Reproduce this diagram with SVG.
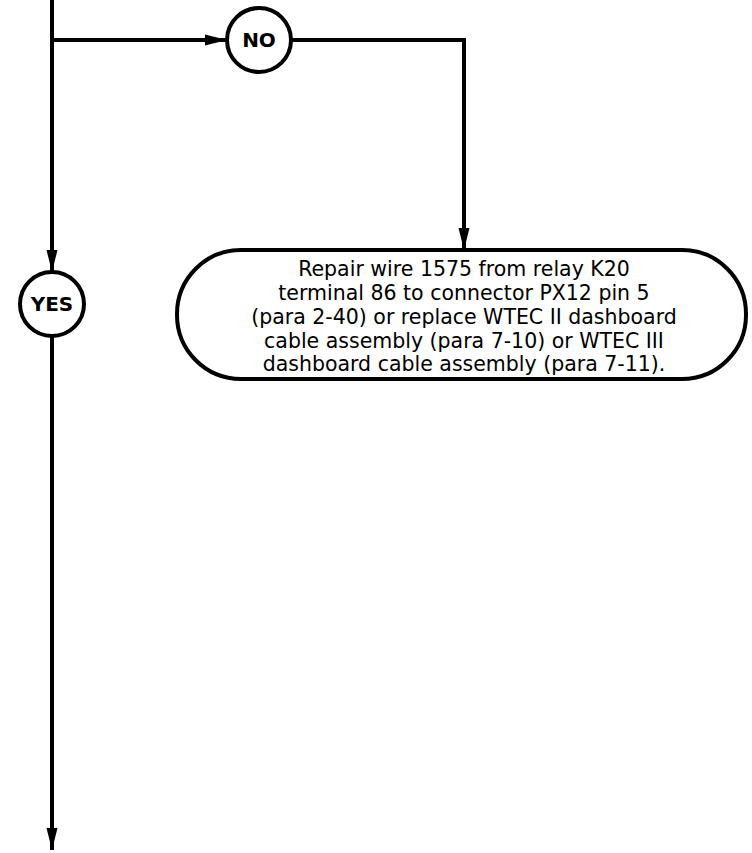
<svg xmlns="http://www.w3.org/2000/svg" width="752" height="853" viewBox="0 0 752 853">
<style>
.ln{fill:none;stroke:#000;stroke-width:4}
.nd{fill:#fff;stroke:#000;stroke-width:4}
.lbl{font-family:"DejaVu Sans",sans-serif;font-weight:bold;font-size:20px;text-anchor:middle;fill:#000}
.txt{font-family:"DejaVu Sans",sans-serif;font-size:20.5px;text-anchor:middle;fill:#000}
</style>
<defs>
<marker id="ah" markerWidth="22" markerHeight="12" refX="22" refY="6" orient="auto" markerUnits="userSpaceOnUse">
<path d="M0,0.5 L22,6 L0,11.5 Z" fill="#000"/>
</marker>
</defs>
<g id="connectors">
<line class="ln" x1="52" y1="0" x2="52" y2="272" marker-end="url(#ah)"/>
<line class="ln" x1="52" y1="40" x2="227" y2="40" marker-end="url(#ah)"/>
<polyline class="ln" points="291,40 464,40 464,250" marker-end="url(#ah)"/>
<line class="ln" x1="52" y1="336" x2="52" y2="850" marker-end="url(#ah)"/>
</g>
<g id="no">
<circle class="nd" cx="259" cy="40" r="32"/>
<text class="lbl" x="259" y="47">NO</text>
</g>
<g id="yes">
<circle class="nd" cx="52" cy="304" r="32"/>
<text class="lbl" x="52" y="311">YES</text>
</g>
<g id="repair">
<rect class="nd" x="177" y="250" width="569" height="129" rx="64" ry="64"/>
<text class="txt" x="464" y="275.5">Repair wire 1575 from relay K20</text>
<text class="txt" x="464" y="299.5">terminal 86 to connector PX12 pin 5</text>
<text class="txt" x="464" y="323.5">(para 2-40) or replace WTEC II dashboard</text>
<text class="txt" x="464" y="347.5">cable assembly (para 7-10) or WTEC III</text>
<text class="txt" x="464" y="371">dashboard cable assembly (para 7-11).</text>
</g>
</svg>
